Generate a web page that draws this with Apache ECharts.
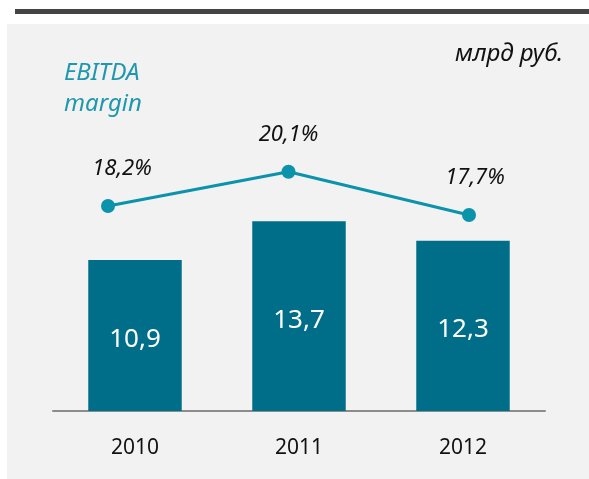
<!DOCTYPE html>
<html>
<head>
<meta charset="utf-8">
<script src="https://cdn.jsdelivr.net/npm/echarts@6/dist/echarts.min.js"></script>
<style>
  html, body { margin: 0; padding: 0; background: #fff; }
  #chart { width: 589px; height: 479px; }
</style>
</head>
<body>
<div id="chart"></div>
<script>
// данные
var years = ["2010", "2011", "2012"];
var ebitda = [10.9, 13.7, 12.3];
var margin = [18.2, 20.1, 17.7];

var FONT = "'Noto Sans', 'Open Sans', sans-serif";

var myChart = echarts.init(document.getElementById("chart"));

var option = {
  animation: false,
  backgroundColor: "#ffffff",
  graphic: [
    // серая подложка
    { type: "rect", z: -10, shape: { x: 7, y: 24, width: 582, height: 455 }, style: { fill: "#f2f2f2" } },
    // верхняя линия
    { type: "rect", z: -10, shape: { x: 15, y: 9, width: 574, height: 5 }, style: { fill: "#444444" } },
    {
      type: "text", left: 455, top: 42,
      style: { text: "млрд руб.", font: "italic 24px " + FONT, fill: "#111" }
    },
    {
      type: "text", left: 64, top: 58,
      style: { text: "EBITDA\nmargin", font: "italic 24px " + FONT, lineHeight: 31, fill: "#1f97ad" }
    }
  ],
  grid: [
    { left: 53, right: 44, top: 134, bottom: 68 },
    { left: 108, right: 120, top: 155.6, height: 252 }
  ],
  xAxis: [
    {
      type: "category",
      gridIndex: 0,
      data: years,
      axisLine: { lineStyle: { color: "#8c8c8c", width: 2 } },
      axisTick: { show: false },
      axisLabel: { color: "#111", fontSize: 21, fontFamily: FONT, margin: 27 }
    },
    {
      type: "category",
      gridIndex: 1,
      data: years,
      boundaryGap: false,
      show: false
    }
  ],
  yAxis: [
    { type: "value", gridIndex: 0, min: 0, max: 20, show: false, splitLine: { show: false } },
    { type: "value", gridIndex: 1, min: 7, max: 21, show: false, splitLine: { show: false } }
  ],
  series: [
    {
      type: "bar",
      xAxisIndex: 0,
      yAxisIndex: 0,
      data: ebitda,
      barCategoryGap: "43%",
      itemStyle: { color: "#006e89" },
      label: {
        show: true,
        position: "inside",
        offset: [0, 4],
        color: "#fff",
        fontSize: 26,
        fontFamily: FONT,
        formatter: function (p) { return String(p.value).replace(".", ","); }
      }
    },
    {
      type: "line",
      xAxisIndex: 1,
      yAxisIndex: 1,
      data: margin.map(function (v, i) {
        var offs = [[14, 0], [0, 0], [6, 0]];
        return { value: v, label: { offset: offs[i] } };
      }),
      symbol: "circle",
      symbolSize: 14,
      lineStyle: { color: "#0a93ab", width: 3 },
      itemStyle: { color: "#0a93ab" },
      label: {
        show: true,
        position: "top",
        distance: 19,
        color: "#111",
        fontSize: 22,
        fontStyle: "italic",
        fontFamily: FONT,
        formatter: function (p) { return String(p.value).replace(".", ",") + "%"; }
      }
    }
  ]
};

myChart.setOption(option);
</script>
</body>
</html>
